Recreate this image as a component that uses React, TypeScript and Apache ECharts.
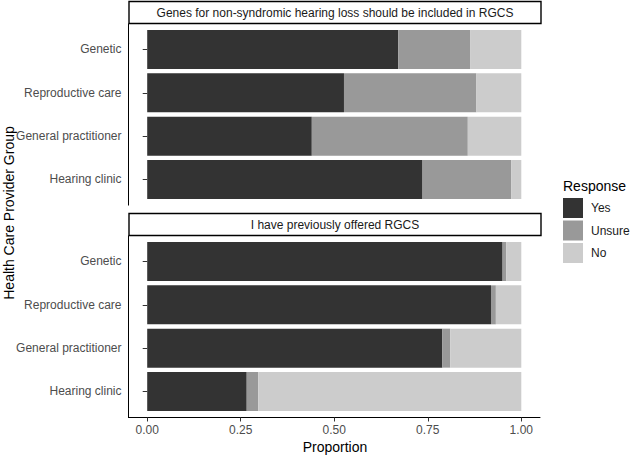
import React, { useEffect, useRef } from "react";
import * as echarts from "echarts";

const categories = ["Genetic", "Reproductive care", "General practitioner", "Hearing clinic"];
const responses = ["Yes", "Unsure", "No"];
const colors = ["#333333", "#999999", "#CCCCCC"];
const facetTitles = [
  "Genes for non-syndromic hearing loss should be included in RGCS",
  "I have previously offered RGCS",
];
const xTicks = [0, 0.25, 0.5, 0.75, 1];

// Panel 1: Genes for non-syndromic hearing loss should be included in RGCS
const p1Yes = [0.671, 0.526, 0.44, 0.736];
const p1Unsure = [0.193, 0.354, 0.417, 0.237];
const p1No = [0.136, 0.12, 0.143, 0.027];

// Panel 2: I have previously offered RGCS
const p2Yes = [0.95, 0.919, 0.789, 0.266];
const p2Unsure = [0.01, 0.013, 0.021, 0.031];
const p2No = [0.04, 0.068, 0.19, 0.703];

const FONT = "'Liberation Sans', Arial, sans-serif";

export default function App() {
  const ref = useRef<HTMLDivElement>(null);
  useEffect(() => {
    if (!ref.current) return;
    const chart = echarts.init(ref.current, undefined, { renderer: "svg" });
    const u = 43.33;
    const left = 128.5;
    const width = 411.5;
    const panelTops = [23.5, 235.5];
    const panelH = 182;
    const panels = [
      [p1Yes, p1Unsure, p1No],
      [p2Yes, p2Unsure, p2No],
    ];
    const series: any[] = [];
    panels.forEach((vals, pi) => {
      vals.forEach((arr, ri) => {
        series.push({
          type: "bar",
          name: responses[ri],
          stack: "p" + pi,
          xAxisIndex: pi,
          yAxisIndex: pi,
          barWidth: "90%",
          data: arr,
          itemStyle: { color: colors[ri] },
          emphasis: { disabled: true },
        });
      });
    });
    const graphic: any[] = [];
    panelTops.forEach((t, i) => {
      graphic.push({
        type: "rect",
        shape: { x: 129, y: t - 22, width: 412, height: 22 },
        style: { fill: "#fff", stroke: "#000", lineWidth: 1.4 },
      });
      graphic.push({
        type: "text",
        x: 335,
        y: t - 10.5,
        style: {
          text: facetTitles[i],
          align: "center",
          verticalAlign: "middle",
          font: `12px ${FONT}`,
          fill: "#1A1A1A",
        },
      });
      graphic.push({
        type: "line",
        shape: { x1: left, y1: t, x2: left, y2: t + panelH + (i === 1 ? 0.5 : 0) },
        style: { stroke: "#000", lineWidth: 1 },
      });
    });
    graphic.push({
      type: "text",
      x: 335,
      y: 446.5,
      style: { text: "Proportion", align: "center", verticalAlign: "middle", font: `14px ${FONT}`, fill: "#000" },
    });
    graphic.push({
      type: "text",
      x: 9,
      y: 213,
      rotation: Math.PI / 2,
      style: {
        text: "Health Care Provider Group",
        align: "center",
        verticalAlign: "middle",
        font: `14px ${FONT}`,
        fill: "#000",
      },
    });
    graphic.push({
      type: "text",
      x: 563,
      y: 186,
      style: { text: "Response", align: "left", verticalAlign: "middle", font: `14px ${FONT}`, fill: "#000" },
    });

    chart.setOption({
      animation: false,
      grid: panelTops.map((t) => ({ left, width, top: t + 0.1 * u, height: 4 * u })),
      xAxis: [0, 1].map((i) => ({
        type: "value",
        gridIndex: i,
        min: -0.05,
        max: 1.05,
        show: i === 1,
        offset: 0.1 * u,
        splitLine: { show: false },
        axisLine: { show: true, lineStyle: { color: "#000", width: 1 } },
        axisTick: { show: true, customValues: xTicks, length: 4, lineStyle: { color: "#333" } },
        axisLabel: {
          customValues: xTicks,
          formatter: (v: number) => v.toFixed(2),
          color: "#4D4D4D",
          fontSize: 12,
          fontFamily: FONT,
          margin: 7,
        },
      })),
      yAxis: [0, 1].map((i) => ({
        type: "category",
        gridIndex: i,
        data: categories,
        inverse: true,
        axisLine: { show: false },
        axisTick: { show: true, alignWithLabel: true, length: 4.5, lineStyle: { color: "#333" } },
        axisLabel: { color: "#4D4D4D", fontSize: 12, fontFamily: FONT, margin: 7 },
        splitLine: { show: false },
      })),
      legend: {
        data: responses,
        orient: "vertical",
        left: 558,
        top: 193,
        itemWidth: 20,
        itemHeight: 20,
        itemGap: 2.5,
        icon: "rect",
        selectedMode: false,
        textStyle: { fontSize: 12, fontFamily: FONT, color: "#1A1A1A", padding: [0, 0, 0, 3] },
      },
      series,
      graphic,
    });
    return () => chart.dispose();
  }, []);
  return (
    <div
      ref={ref}
      style={{ position: "fixed", left: 0, top: 0, width: 632, height: 455, background: "#fff" }}
    />
  );
}
